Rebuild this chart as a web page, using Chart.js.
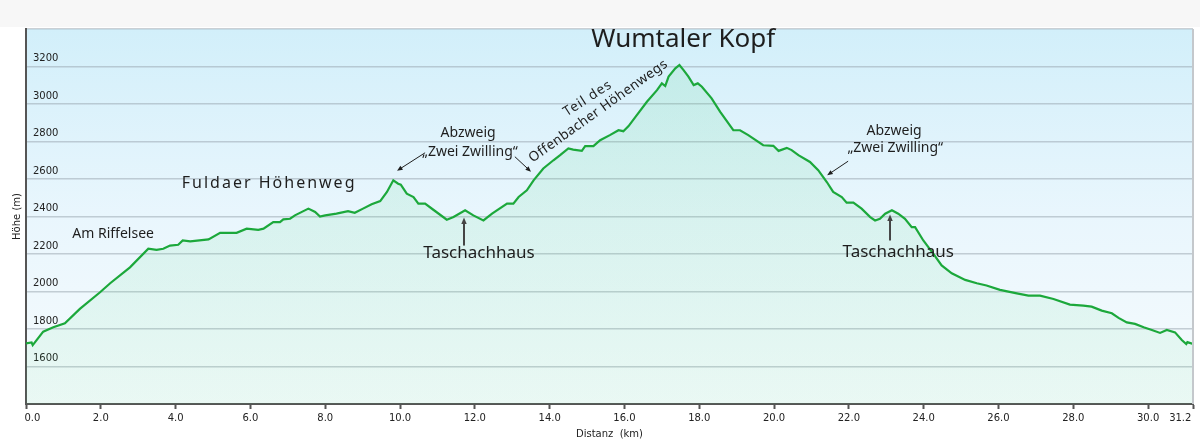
<!DOCTYPE html>
<html lang="de">
<head>
<meta charset="utf-8">
<title>Höhenprofil</title>
<script src="https://cdn.jsdelivr.net/npm/chart.js@4.4.1/dist/chart.umd.min.js"></script>
<style>
  html, body { margin: 0; padding: 0; background: #fff; }
  #wrap { width: 1200px; height: 442px; position: relative; }
</style>
</head>
<body>
<div id="wrap"><canvas id="profil"></canvas></div>
<script>
// Höhenprofil: Distanz (km) und Höhe (m)
const distanzKm = [
  0.00, 0.15, 0.18, 0.46, 0.73, 1.04, 1.44, 1.98, 2.25, 2.78,
  3.27, 3.49, 3.67, 3.85, 4.07, 4.19, 4.39, 4.88, 5.19, 5.63,
  5.90, 6.21, 6.35, 6.61, 6.79, 6.88, 7.06, 7.19, 7.55, 7.73,
  7.86, 8.00, 8.30, 8.61, 8.79, 9.01, 9.24, 9.47, 9.65, 9.82,
  9.95, 10.02, 10.18, 10.36, 10.49, 10.67, 10.89, 11.25, 11.43, 11.74,
  11.96, 12.23, 12.46, 12.86, 13.03, 13.17, 13.39, 13.57, 13.83, 14.10,
  14.28, 14.50, 14.63, 14.86, 14.95, 15.17, 15.35, 15.61, 15.84, 15.97,
  16.11, 16.33, 16.60, 16.87, 17.00, 17.09, 17.18, 17.36, 17.47, 17.58,
  17.71, 17.85, 17.96, 18.07, 18.33, 18.56, 18.91, 19.09, 19.31, 19.71,
  19.98, 20.12, 20.34, 20.47, 20.65, 20.96, 21.18, 21.41, 21.58, 21.81,
  21.94, 22.12, 22.34, 22.57, 22.70, 22.83, 22.97, 23.15, 23.32, 23.50,
  23.68, 23.77, 23.99, 24.26, 24.48, 24.75, 25.11, 25.42, 25.68, 26.04,
  26.49, 26.80, 27.11, 27.47, 27.91, 28.27, 28.49, 28.76, 29.03, 29.21,
  29.43, 29.65, 29.88, 30.10, 30.32, 30.50, 30.72, 30.90, 31.02, 31.05,
  31.20
];
const hoeheM = [
  1723, 1728, 1714, 1786, 1809, 1830, 1907, 1996, 2044, 2129,
  2228, 2222, 2228, 2245, 2249, 2272, 2267, 2278, 2313, 2313,
  2335, 2329, 2335, 2370, 2370, 2385, 2388, 2406, 2442, 2424,
  2400, 2406, 2415, 2429, 2420, 2442, 2465, 2482, 2531, 2593,
  2575, 2570, 2522, 2504, 2469, 2469, 2436, 2383, 2397, 2433,
  2406, 2379, 2415, 2469, 2469, 2504, 2540, 2593, 2656, 2700,
  2727, 2763, 2757, 2750, 2775, 2775, 2807, 2834, 2860, 2855,
  2882, 2941, 3012, 3074, 3110, 3096, 3146, 3190, 3208, 3181,
  3146, 3101, 3110, 3092, 3030, 2958, 2860, 2860, 2834, 2780,
  2777, 2750, 2766, 2754, 2727, 2691, 2647, 2584, 2531, 2504,
  2474, 2474, 2442, 2397, 2379, 2388, 2415, 2433, 2415, 2388,
  2343, 2343, 2272, 2201, 2139, 2097, 2062, 2044, 2032, 2009,
  1990, 1978, 1978, 1960, 1930, 1925, 1919, 1898, 1884, 1859,
  1835, 1827, 1809, 1795, 1779, 1795, 1782, 1741, 1720, 1730,
  1720
];

const xTicks = [0, 2, 4, 6, 8, 10, 12, 14, 16, 18, 20, 22, 24, 26, 28, 30, 31.2];
const yLabelTicks = [1600, 1800, 2000, 2200, 2400, 2600, 2800, 3000, 3200];

// Beschriftungen im Diagramm (Position in km / m)
const labels = [
  { text: "Wumtaler Kopf", km: 17.57, m: 3345, size: 26 },
  { text: "Fuldaer Höhenweg", km: 6.50, m: 2577, size: 16, spacing: 2 },
  { text: "Am Riffelsee", km: 2.33, m: 2304, size: 14 },
  { text: "Abzweig", km: 11.82, m: 2845, size: 14 },
  { text: "„Zwei Zwilling“", km: 11.87, m: 2743, size: 14 },
  { text: "Taschachhaus", km: 12.11, m: 2203, size: 17 },
  { text: "Abzweig", km: 23.21, m: 2855, size: 14 },
  { text: "„Zwei Zwilling“", km: 23.24, m: 2764, size: 14 },
  { text: "Taschachhaus", km: 23.32, m: 2208, size: 17 },
  { text: "Teil des", km: 15.02, m: 3030, size: 13.5, spacing: 1, angle: -33 },
  { text: "Offenbacher Höhenwegs", km: 15.30, m: 2962, size: 13.5, spacing: 0.4, angle: -35.5 }
];
const arrows = [
  { from: [10.67, 2740], to: [9.92, 2644], width: 1 },
  { from: [13.07, 2719], to: [13.50, 2639], width: 1 },
  { from: [21.98, 2695], to: [21.42, 2620], width: 1 },
  { from: [11.71, 2245], to: [11.71, 2395], width: 2 },
  { from: [23.10, 2272], to: [23.10, 2411], width: 2 }
];

const punkte = distanzKm.map((d, i) => ({ x: d, y: hoeheM[i] }));

const hintergrund = {
  id: "hintergrund",
  beforeDraw(chart) {
    const { ctx, chartArea: a, width } = chart;
    ctx.save();
    ctx.fillStyle = "#f7f7f7";
    ctx.fillRect(0, 0, width, a.top - 2);
    const g = ctx.createLinearGradient(0, a.top, 0, a.bottom);
    g.addColorStop(0, "#d2effa");
    g.addColorStop(0.5, "#e9f6fd");
    g.addColorStop(1, "#f6fbfd");
    ctx.fillStyle = g;
    ctx.fillRect(a.left, a.top, a.right - a.left, a.bottom - a.top);
    ctx.restore();
  },
  afterDraw(chart) {
    const { ctx, chartArea: a } = chart;
    ctx.save();
    ctx.strokeStyle = "#c4c8cc";
    ctx.lineWidth = 2;
    ctx.beginPath();
    ctx.moveTo(a.right, a.top);
    ctx.lineTo(a.right, a.bottom);
    ctx.stroke();
    ctx.restore();
  }
};

function pfeil(ctx, x1, y1, x2, y2, w) {
  const ang = Math.atan2(y2 - y1, x2 - x1);
  const head = w > 1 ? 7 : 6;
  ctx.lineWidth = w;
  ctx.beginPath();
  ctx.moveTo(x1, y1);
  ctx.lineTo(x2 - Math.cos(ang) * head * 0.6, y2 - Math.sin(ang) * head * 0.6);
  ctx.stroke();
  ctx.beginPath();
  ctx.moveTo(x2, y2);
  ctx.lineTo(x2 - head * Math.cos(ang - 0.4), y2 - head * Math.sin(ang - 0.4));
  ctx.lineTo(x2 - head * Math.cos(ang + 0.4), y2 - head * Math.sin(ang + 0.4));
  ctx.closePath();
  ctx.fill();
}

const beschriftung = {
  id: "beschriftung",
  afterDatasetsDraw(chart) {
    const { ctx, scales: { x, y } } = chart;
    ctx.save();
    ctx.fillStyle = "#1e1e1e";
    ctx.textAlign = "center";
    ctx.textBaseline = "middle";
    labels.forEach(l => {
      ctx.save();
      ctx.translate(x.getPixelForValue(l.km), y.getPixelForValue(l.m));
      if (l.angle) ctx.rotate(l.angle * Math.PI / 180);
      ctx.font = l.size + 'px "Noto Sans", sans-serif';
      ctx.letterSpacing = (l.spacing || 0) + "px";
      ctx.fillText(l.text, 0, 0);
      ctx.restore();
    });
    arrows.forEach(p => {
      ctx.strokeStyle = p.width > 1 ? "#444" : "#1e1e1e";
      ctx.fillStyle = ctx.strokeStyle;
      pfeil(ctx,
        x.getPixelForValue(p.from[0]), y.getPixelForValue(p.from[1]),
        x.getPixelForValue(p.to[0]), y.getPixelForValue(p.to[1]), p.width);
    });
    ctx.restore();
  }
};

// erste und letzte Beschriftung nach innen rücken, wie im Original
function xLabel(v) {
  const s = Number(v).toFixed(1);
  if (v === 0) return "\u2007\u2007" + s;
  if (v === 31.2) return s + "\u2007\u2007\u2007\u2007";
  return s;
}

const config = {
  type: "line",
  data: {
    datasets: [{
      label: "Höhe",
      data: punkte,
      borderColor: "#1ca83b",
      borderWidth: 2.2,
      pointRadius: 0,
      tension: 0,
      fill: "start",
      backgroundColor(context) {
        const a = context.chart.chartArea;
        if (!a) return "rgba(80,210,120,0.1)";
        const g = context.chart.ctx.createLinearGradient(0, a.top, 0, a.bottom);
        g.addColorStop(0, "rgba(70,205,120,0.14)");
        g.addColorStop(1, "rgba(70,215,120,0.07)");
        return g;
      }
    }]
  },
  options: {
    responsive: true,
    maintainAspectRatio: false,
    animation: false,
    layout: { padding: { top: 29, right: 7, left: 0, bottom: 0 } },
    plugins: { legend: { display: false }, tooltip: { enabled: false } },
    scales: {
      x: {
        type: "linear",
        min: 0,
        max: 31.2,
        afterFit(scale) {
          scale.height = 38;
          scale.paddingLeft = 0;
          scale.paddingRight = 0;
        },
        afterBuildTicks(scale) { scale.ticks = xTicks.map(v => ({ value: v })); },
        border: { color: "#555", width: 2 },
        grid: { drawOnChartArea: false, drawTicks: true, tickLength: 5, tickColor: "#555", tickWidth: 2 },
        ticks: {
          autoSkip: false,
          maxRotation: 0,
          padding: 3,
          color: "#222",
          font: { family: '"DejaVu Sans", Verdana, sans-serif', size: 10 },
          callback: xLabel
        },
        title: {
          display: true,
          text: "Distanz  (km)",
          color: "#222",
          font: { family: '"DejaVu Sans", Verdana, sans-serif', size: 10 },
          padding: { top: 0, bottom: 2 }
        }
      },
      y: {
        min: 1400,
        max: 3400,
        afterFit(scale) { scale.width = 26; },
        border: { color: "#555", width: 2 },
        grid: { color: "rgba(150,162,172,0.5)", lineWidth: 1.5, drawTicks: false },
        ticks: {
          stepSize: 200,
          mirror: true,
          padding: 7,
          labelOffset: -8,
          color: "#222",
          font: { family: '"DejaVu Sans", Verdana, sans-serif', size: 10 },
          callback: v => yLabelTicks.includes(v) ? String(v) : ""
        },
        title: {
          display: true,
          text: "Höhe (m)",
          color: "#222",
          font: { family: '"DejaVu Sans", Verdana, sans-serif', size: 10 },
          padding: { top: 11, bottom: 0 }
        }
      }
    }
  },
  plugins: [hintergrund, beschriftung]
};

const profilChart = new Chart(document.getElementById("profil"), config);
</script>
</body>
</html>
